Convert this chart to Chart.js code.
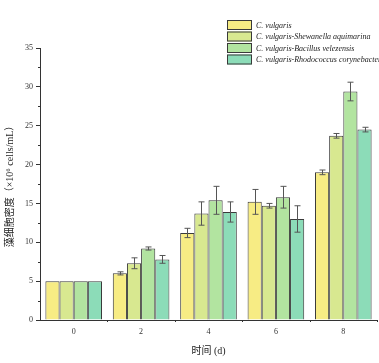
<!DOCTYPE html>
<html>
<head>
<meta charset="utf-8">
<script src="https://cdn.jsdelivr.net/npm/chart.js@4.4.1/dist/chart.umd.min.js"></script>
<style>
  html, body { margin: 0; padding: 0; background: #fff; overflow: hidden; }
  #wrap { width: 379px; height: 363px; }
</style>
</head>
<body>
<div id="wrap"><canvas id="myChart" width="379" height="363"></canvas></div>
<script>
// time points (d)
const days = ['0', '2', '4', '6', '8'];

const names = [
    'C. vulgaris',
    'C. vulgaris-Shewanella aquimarina',
    'C. vulgaris-Bacillus velezensis',
    'C. vulgaris-Rhodococcus corynebacterioides'
];

// cell density, x10^6 cells/mL
const algae      = [5.0, 6.0, 11.2, 15.2, 19.0];
const algaeShew  = [5.0, 7.3, 13.7, 14.7, 23.7];
const algaeBac   = [5.0, 9.2, 15.4, 15.8, 29.4];
const algaeRhodo = [5.0, 7.8, 13.9, 13.0, 24.5];

// standard deviations
const algaeErr      = [0, 0.2, 0.6, 1.6, 0.3];
const algaeShewErr  = [0, 0.7, 1.5, 0.3, 0.3];
const algaeBacErr   = [0, 0.2, 1.8, 1.4, 1.2];
const algaeRhodoErr = [0, 0.5, 1.3, 1.7, 0.3];

const colors = ['#f7ec84', '#d8e890', '#b2e4a0', '#8cdcb8'];

const serif = '"Liberation Serif", "Noto Sans CJK SC", serif';

function makeSet(i, data, err) {
    return {
        label: names[i],
        data: data,
        err: err,
        backgroundColor: colors[i],
        borderColor: '#3a3a3a',
        borderWidth: 1,
        categoryPercentage: 0.84,
        barPercentage: 1.0
    };
}

// error bars, drawn through the scales
const errorBars = {
    id: 'errorBars',
    afterDatasetsDraw(chart) {
        const ctx = chart.ctx;
        const y = chart.scales.y;
        ctx.save();
        ctx.strokeStyle = '#555';
        ctx.lineWidth = 1;
        chart.data.datasets.forEach((ds, di) => {
            const meta = chart.getDatasetMeta(di);
            meta.data.forEach((bar, i) => {
                const e = ds.err[i];
                if (!e) return;
                const x = Math.round(bar.x) + 0.5;
                const top = y.getPixelForValue(ds.data[i] + e);
                const bot = y.getPixelForValue(ds.data[i] - e);
                ctx.beginPath();
                ctx.moveTo(x, top); ctx.lineTo(x, bot);
                ctx.moveTo(x - 3, top); ctx.lineTo(x + 3, top);
                ctx.moveTo(x - 3, bot); ctx.lineTo(x + 3, bot);
                ctx.stroke();
            });
        });
        ctx.restore();
    }
};

// minor ticks on both axes
const minorTicks = {
    id: 'minorTicks',
    afterDraw(chart) {
        const ctx = chart.ctx;
        const x = chart.scales.x, y = chart.scales.y;
        const area = chart.chartArea;
        ctx.save();
        ctx.strokeStyle = '#333';
        ctx.lineWidth = 1;
        ctx.beginPath();
        for (let v = 2.5; v < 35; v += 5) {
            const py = Math.round(y.getPixelForValue(v)) + 0.5;
            ctx.moveTo(area.left - 2, py); ctx.lineTo(area.left, py);
        }
        const half = (x.getPixelForValue(1) - x.getPixelForValue(0)) / 2;
        for (let i = 0; i < days.length; i++) {
            const px = Math.round(x.getPixelForValue(i) + half) + 0.5;
            ctx.moveTo(px, area.bottom); ctx.lineTo(px, area.bottom + 2);
        }
        ctx.stroke();
        ctx.restore();
    }
};

// legend box in the top right corner
const cornerLegend = {
    id: 'cornerLegend',
    afterDraw(chart) {
        const ctx = chart.ctx;
        ctx.save();
        ctx.font = 'italic 8px ' + serif;
        ctx.textBaseline = 'middle';
        chart.data.datasets.forEach((ds, i) => {
            const top = 20 + i * 11.5;
            ctx.fillStyle = ds.backgroundColor;
            ctx.fillRect(227, top, 25, 10);
            ctx.strokeStyle = '#3a3a3a';
            ctx.lineWidth = 1;
            ctx.strokeRect(227.5, top + 0.5, 24, 9);
            ctx.fillStyle = '#222';
            ctx.fillText(ds.label, 256, top + 5.5);
        });
        ctx.restore();
    }
};

const ctx = document.getElementById('myChart');
const myChart = new Chart(ctx, {
    type: 'bar',
    data: {
        labels: days,
        datasets: [
            makeSet(0, algae, algaeErr),
            makeSet(1, algaeShew, algaeShewErr),
            makeSet(2, algaeBac, algaeBacErr),
            makeSet(3, algaeRhodo, algaeRhodoErr)
        ]
    },
    options: {
        responsive: false,
        animation: false,
        layout: {
            padding: { left: 0, top: 48, right: 2, bottom: 0 }
        },
        plugins: {
            legend: { display: false },
            tooltip: { enabled: false }
        },
        scales: {
            x: {
                grid: { display: false, drawTicks: false },
                border: { color: '#333', width: 1 },
                ticks: {
                    color: '#333',
                    font: { family: serif, size: 8 },
                    padding: 7
                },
                title: {
                    display: true,
                    text: '时间 (d)',
                    color: '#222',
                    font: { family: serif, size: 10 },
                    padding: { top: 3, bottom: 6 }
                },
                afterFit(scale) { scale.height = 43; }
            },
            y: {
                min: 0,
                max: 35,
                grid: {
                    display: true,
                    drawOnChartArea: false,
                    drawTicks: true,
                    tickLength: 4,
                    color: '#333'
                },
                border: { color: '#333', width: 1 },
                ticks: {
                    stepSize: 5,
                    color: '#333',
                    font: { family: serif, size: 8 },
                    padding: 3
                },
                title: {
                    display: true,
                    text: '藻细胞密度（×10⁶ cells/mL）',
                    color: '#222',
                    font: { family: serif, size: 10 },
                    padding: { top: 4, bottom: 0 }
                },
                afterFit(scale) { scale.width = 40; }
            }
        }
    },
    plugins: [errorBars, minorTicks, cornerLegend]
});
</script>
</body>
</html>
